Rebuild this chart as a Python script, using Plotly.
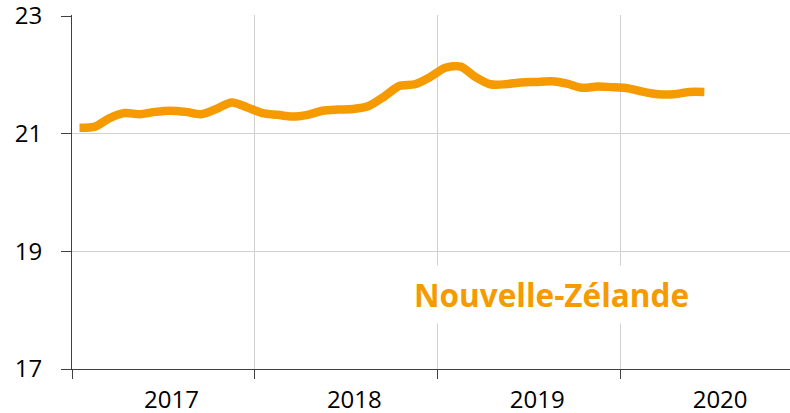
import pandas as pd
import plotly.graph_objects as go

# Monthly values, Jan 2017 .. Jun 2020
months = pd.date_range("2017-01-01", periods=42, freq="MS") + pd.Timedelta(days=15)
values = [21.10, 21.12, 21.26, 21.35, 21.33, 21.37, 21.39, 21.37, 21.33, 21.42, 21.53, 21.45,
          21.35, 21.32, 21.29, 21.32, 21.39, 21.41, 21.42, 21.47, 21.63, 21.81, 21.84, 21.96,
          22.12, 22.14, 21.97, 21.84, 21.84, 21.87, 21.88, 21.89, 21.85, 21.78, 21.80, 21.79,
          21.77, 21.71, 21.67, 21.67, 21.71, 21.71]
series_name = "Nouvelle-Zélande"
y_ticks = [17, 19, 21, 23]

ORANGE = "#F59A00"

fig = go.Figure()
fig.add_trace(go.Scatter(
    x=months, y=values, mode="lines", name=series_name,
    line=dict(color=ORANGE, width=8.5, shape="spline", smoothing=0.8),
    showlegend=False, hoverinfo="skip",
))

fig.add_annotation(
    x="2019-08-15", y=18.27, xref="x", yref="y",
    text="<b>" + series_name + "</b>", showarrow=False,
    font=dict(family="Open Sans", size=31.5, color=ORANGE),
    bgcolor="white", borderpad=7,
)

fig.update_layout(
    width=790, height=413,
    margin=dict(l=72, r=0, t=15, b=44, autoexpand=False),
    paper_bgcolor="white", plot_bgcolor="white",
    font=dict(family="Open Sans", color="#000000"),
)
fig.update_xaxes(
    type="date", range=["2017-01-01", "2020-12-04"],
    tick0="2017-01-01", dtick="M12", tickformat="%Y", ticklabelmode="period",
    ticklabelshift=8,
    showgrid=True, gridcolor="#D0D0D0", gridwidth=1,
    showline=True, linecolor="#404040", linewidth=1,
    ticks="outside", ticklen=9, tickcolor="#404040",
    tickfont=dict(size=24, color="#000000"),
    zeroline=False, fixedrange=True, automargin=False, ticklabeloverflow="allow",
)
fig.update_yaxes(
    range=[17, 23.017], tickvals=y_ticks, ticktext=[str(v) for v in y_ticks],
    showgrid=True, gridcolor="#D0D0D0", gridwidth=1,
    showline=True, linecolor="#404040", linewidth=1,
    ticks="outside", ticklen=10, tickcolor="#404040",
    tickfont=dict(size=24, color="#000000"), ticklabelstandoff=14,
    zeroline=False, fixedrange=True, automargin=False, ticklabeloverflow="allow",
)

fig.write_html("out.html", config={"displayModeBar": False},
               post_script="document.body.style.margin='0';")
